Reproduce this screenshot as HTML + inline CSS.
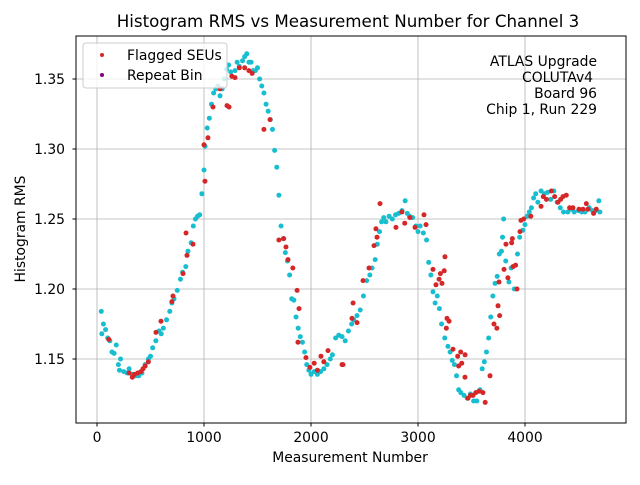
<!DOCTYPE html>
<html><head><meta charset="utf-8"><style>
body{margin:0;background:#fff;}
svg text{font-family:"DejaVu Sans","Liberation Sans",sans-serif;fill:#000;}
</style></head><body>
<svg id="chart" width="640" height="480" xmlns="http://www.w3.org/2000/svg">
<rect width="640" height="480" fill="#fff"/>
<text x="348" y="27" font-size="16.7" text-anchor="middle">Histogram RMS vs Measurement Number for Channel 3</text>
<g id="grid"></g>
<g id="points"></g>
<rect x="76" y="36" width="550" height="387" fill="none" stroke="#000" stroke-width="1"/>
<g id="ticks"></g>
<text x="350" y="462" font-size="13.9" text-anchor="middle">Measurement Number</text>
<text x="25" y="229" font-size="13.9" text-anchor="middle" transform="rotate(-90 25 229)">Histogram RMS</text>
<g font-size="13.9">
<text x="597" y="66" text-anchor="end">ATLAS Upgrade</text>
<text x="593" y="82" text-anchor="end">COLUTAv4</text>
<text x="597" y="98" text-anchor="end">Board 96</text>
<text x="597" y="114" text-anchor="end">Chip 1, Run 229</text>
</g>
<g>
<rect x="83" y="43" width="144" height="45" rx="3" fill="#fff" fill-opacity="0.8" stroke="#ccc"/>
<circle cx="102" cy="55" r="2" fill="#d62728"/>
<text x="127" y="60" font-size="13.9">Flagged SEUs</text>
<circle cx="102" cy="75" r="2" fill="#800080"/>
<text x="127" y="80" font-size="13.9">Repeat Bin</text>
</g>
</svg>
<script>
const xTicks=[0,1000,2000,3000,4000];
const yTicks=[1.15,1.20,1.25,1.30,1.35];
const cyanX=[40,45,60,80,100,120,140,160,180,200,210,220,250,280,300,330,360,390,420,450,480,500,520,550,580,600,620,650,680,700,720,750,780,800,830,850,880,900,920,940,960,980,1000,1010,1030,1050,1070,1090,1110,1130,1150,1170,1190,1210,1230,1250,1290,1310,1330,1360,1380,1400,1420,1440,1460,1480,1500,1520,1540,1560,1580,1600,1620,1640,1660,1680,1700,1720,1740,1760,1780,1800,1820,1840,1860,1880,1900,1920,1940,1960,1980,2000,2030,2060,2090,2120,2150,2180,2200,2230,2260,2290,2320,2350,2380,2400,2430,2460,2490,2520,2550,2570,2600,2620,2640,2660,2680,2700,2730,2760,2790,2820,2850,2880,2900,2920,2950,2980,3000,3020,3050,3080,3100,3120,3140,3160,3180,3200,3220,3250,3280,3300,3320,3340,3360,3380,3400,3430,3460,3490,3520,3550,3580,3600,3620,3640,3660,3680,3700,3720,3740,3760,3780,3790,3800,3820,3850,3870,3900,3930,3950,3980,4000,4020,4040,4060,4080,4100,4120,4150,4180,4210,4240,4270,4300,4330,4360,4400,4430,4460,4500,4530,4560,4600,4630,4660,4690,4700];
const cyanY=[1.184,1.168,1.175,1.171,1.165,1.163,1.155,1.154,1.160,1.146,1.142,1.150,1.141,1.140,1.143,1.139,1.138,1.138,1.140,1.146,1.150,1.152,1.158,1.163,1.170,1.168,1.172,1.178,1.184,1.190,1.193,1.199,1.207,1.212,1.216,1.227,1.233,1.245,1.250,1.252,1.253,1.268,1.285,1.302,1.315,1.322,1.332,1.340,1.343,1.345,1.338,1.343,1.350,1.357,1.360,1.355,1.356,1.362,1.359,1.363,1.366,1.368,1.362,1.362,1.356,1.356,1.358,1.350,1.345,1.340,1.332,1.327,1.321,1.314,1.299,1.287,1.267,1.245,1.236,1.226,1.220,1.210,1.193,1.192,1.180,1.172,1.166,1.162,1.155,1.146,1.142,1.139,1.141,1.139,1.141,1.143,1.146,1.150,1.153,1.165,1.167,1.166,1.163,1.170,1.175,1.178,1.181,1.185,1.195,1.206,1.210,1.215,1.221,1.232,1.241,1.248,1.251,1.248,1.252,1.250,1.253,1.254,1.256,1.263,1.254,1.252,1.251,1.245,1.241,1.245,1.240,1.235,1.219,1.210,1.198,1.190,1.195,1.186,1.175,1.165,1.159,1.155,1.149,1.146,1.138,1.128,1.126,1.124,1.122,1.125,1.120,1.120,1.128,1.143,1.148,1.155,1.165,1.180,1.195,1.204,1.209,1.225,1.227,1.237,1.250,1.220,1.205,1.215,1.200,1.225,1.237,1.242,1.246,1.252,1.255,1.258,1.265,1.268,1.262,1.270,1.268,1.269,1.264,1.270,1.262,1.258,1.255,1.255,1.257,1.255,1.256,1.255,1.255,1.258,1.256,1.256,1.263,1.255];
const redX=[110,300,330,350,380,410,430,450,480,551,598,700,710,804,832,841,897,1000,1009,1037,1084,1150,1215,1234,1260,1290,1330,1380,1420,1450,1560,1617,1700,1745,1766,1785,1830,1870,1878,1888,1953,1990,2030,2060,2093,2120,2159,2290,2299,2383,2393,2430,2486,2542,2589,2607,2617,2645,2794,2850,2876,2925,2972,3056,3075,3140,3168,3197,3209,3224,3245,3252,3265,3271,3290,3327,3371,3380,3399,3409,3439,3440,3467,3490,3514,3540,3570,3607,3628,3673,3710,3737,3748,3757,3763,3804,3822,3840,3875,3882,3888,3912,3925,3953,3962,3988,4054,4150,4171,4200,4246,4277,4308,4333,4355,4386,4417,4448,4505,4542,4573,4589,4641,4666];
const redY=[1.164,1.140,1.137,1.139,1.140,1.141,1.143,1.145,1.148,1.169,1.177,1.191,1.195,1.211,1.240,1.224,1.232,1.303,1.277,1.308,1.330,1.343,1.331,1.330,1.352,1.351,1.358,1.358,1.356,1.354,1.314,1.321,1.235,1.236,1.230,1.221,1.215,1.199,1.162,1.186,1.151,1.144,1.147,1.142,1.152,1.148,1.156,1.146,1.146,1.179,1.190,1.176,1.206,1.215,1.231,1.243,1.237,1.261,1.244,1.255,1.247,1.251,1.244,1.253,1.246,1.214,1.203,1.207,1.211,1.204,1.213,1.223,1.172,1.179,1.177,1.157,1.152,1.145,1.155,1.147,1.137,1.153,1.122,1.124,1.124,1.126,1.127,1.126,1.119,1.138,1.175,1.172,1.188,1.205,1.181,1.214,1.232,1.208,1.233,1.236,1.216,1.217,1.200,1.241,1.249,1.250,1.252,1.259,1.266,1.264,1.270,1.266,1.262,1.264,1.266,1.267,1.258,1.258,1.257,1.257,1.261,1.257,1.254,1.257];
const NS='http://www.w3.org/2000/svg';
function xs(m){return 97+0.107*m;}
function ys(v){return 79+(1.35-v)*1400;}
const grid=document.getElementById('grid'),ticks=document.getElementById('ticks'),pts=document.getElementById('points');
xTicks.forEach(t=>{
 const l=document.createElementNS(NS,'line');l.setAttribute('x1',xs(t));l.setAttribute('x2',xs(t));l.setAttribute('y1',36);l.setAttribute('y2',423);l.setAttribute('stroke','#b0b0b0');l.setAttribute('stroke-width','0.8');
 
 
 grid.appendChild(l);
 const k=document.createElementNS(NS,'line');k.setAttribute('x1',xs(t));k.setAttribute('x2',xs(t));k.setAttribute('y1',423);k.setAttribute('y2',426.5);k.setAttribute('stroke','#000');
 
 
 ticks.appendChild(k);
 const tx=document.createElementNS(NS,'text');tx.setAttribute('x',xs(t));tx.setAttribute('y',442);tx.setAttribute('font-size','13.9');tx.setAttribute('text-anchor','middle');tx.textContent=t;
 
 
 ticks.appendChild(tx);
});
yTicks.forEach(t=>{
 const l=document.createElementNS(NS,'line');l.setAttribute('y1',ys(t));l.setAttribute('y2',ys(t));l.setAttribute('x1',76);l.setAttribute('x2',626);l.setAttribute('stroke','#b0b0b0');l.setAttribute('stroke-width','0.8');
 
 
 grid.appendChild(l);
 const k=document.createElementNS(NS,'line');k.setAttribute('y1',ys(t));k.setAttribute('y2',ys(t));k.setAttribute('x1',72.5);k.setAttribute('x2',76);k.setAttribute('stroke','#000');
 
 
 ticks.appendChild(k);
 const tx=document.createElementNS(NS,'text');tx.setAttribute('x',65);tx.setAttribute('y',ys(t)+5);tx.setAttribute('font-size','13.9');tx.setAttribute('text-anchor','end');tx.textContent=t.toFixed(2);
 
 
 ticks.appendChild(tx);
});
cyanX.forEach((m,i)=>{
 const c=document.createElementNS(NS,'circle');c.setAttribute('cx',xs(m));c.setAttribute('cy',ys(cyanY[i]));c.setAttribute('r',2.5);c.setAttribute('fill','#17becf');
 
 
 pts.appendChild(c);
});
redX.forEach((m,i)=>{
 const c=document.createElementNS(NS,'circle');c.setAttribute('cx',xs(m));c.setAttribute('cy',ys(redY[i]));c.setAttribute('r',2.5);c.setAttribute('fill','#d62728');
 
 
 pts.appendChild(c);
});
</script>
</body></html>
